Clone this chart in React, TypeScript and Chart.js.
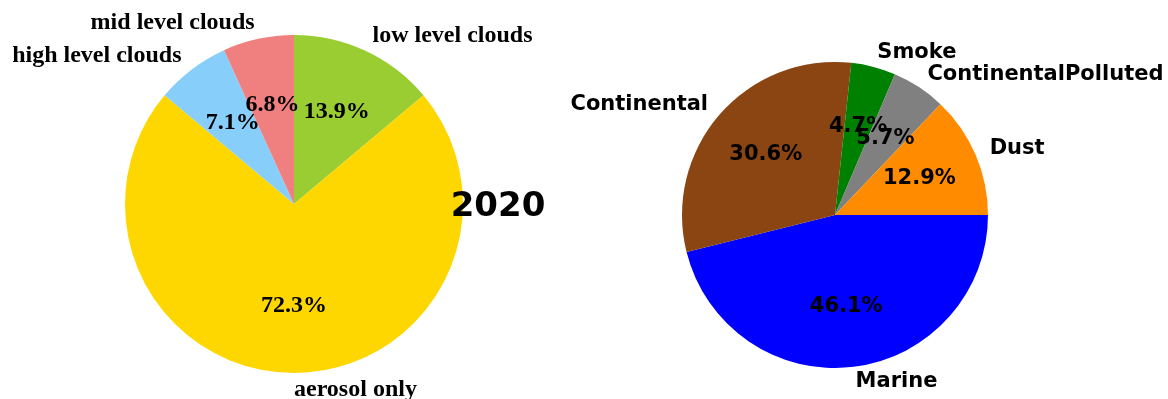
import React, { useEffect, useRef } from "react";
import { Chart, registerables } from "chart.js";

Chart.register(...registerables);

// Left pie (cloud types), clockwise from top
const cloudLabels = ["low level clouds", "aerosol only", "high level clouds", "mid level clouds"];
const cloudValues = [13.9, 72.3, 7.1, 6.8];
const cloudColors = ["#9ACD32", "#FFD700", "#87CEFA", "#F08080"];

// Right pie (aerosol types), clockwise from 3 o'clock
const aerosolLabels = ["Marine", "Continental", "Smoke", "ContinentalPolluted", "Dust"];
const aerosolValues = [46.1, 30.6, 4.7, 5.7, 12.9];
const aerosolColors = ["#0000FF", "#8B4513", "#008000", "#808080", "#FF8C00"];

const yearText = "2020";

const H = 399;

function makeLabelPlugin(font: string, extra?: (ctx: CanvasRenderingContext2D) => void) {
  return {
    id: "mplLabels",
    afterDraw(chart: any) {
      const ctx: CanvasRenderingContext2D = chart.ctx;
      const meta = chart.getDatasetMeta(0);
      const labels = chart.data.labels as string[];
      const values = chart.data.datasets[0].data as number[];
      ctx.save();
      ctx.font = font;
      ctx.fillStyle = "#000";
      ctx.textBaseline = "middle";
      meta.data.forEach((arc: any, i: number) => {
        const p = arc.getProps(["x", "y", "startAngle", "endAngle", "outerRadius"], true);
        const mid = (p.startAngle + p.endAngle) / 2;
        const c = Math.cos(mid);
        const s = Math.sin(mid);
        // outer label
        const lx = p.x + p.outerRadius * 1.1 * c;
        const ly = p.y + p.outerRadius * 1.1 * s;
        ctx.textAlign = c > -0.01 ? "left" : "right";
        ctx.fillText(labels[i], lx, ly);
        // percentage
        const px = p.x + p.outerRadius * 0.6 * c;
        const py = p.y + p.outerRadius * 0.6 * s;
        ctx.textAlign = "center";
        ctx.fillText(values[i].toFixed(1) + "%", px, py);
      });
      if (extra) extra(ctx);
      ctx.restore();
    },
  };
}

function PieCanvas(props: {
  left: number;
  width: number;
  labels: string[];
  values: number[];
  colors: string[];
  rotation: number;
  padding: { left: number; right: number; top: number; bottom: number };
  font: string;
  extra?: (ctx: CanvasRenderingContext2D) => void;
}) {
  const ref = useRef<HTMLCanvasElement>(null);
  useEffect(() => {
    const canvas = ref.current!;
    const chart = new Chart(canvas, {
      type: "pie",
      data: {
        labels: props.labels,
        datasets: [
          {
            data: props.values,
            backgroundColor: props.colors,
            borderWidth: 0,
          },
        ],
      },
      options: {
        animation: false,
        responsive: false,
        devicePixelRatio: 1,
        rotation: props.rotation,
        layout: { padding: props.padding },
        plugins: {
          legend: { display: false },
          tooltip: { enabled: false },
          title: { display: false },
        },
      },
      plugins: [makeLabelPlugin(props.font, props.extra)],
    });
    return () => chart.destroy();
  }, []);
  return (
    <canvas
      ref={ref}
      width={props.width}
      height={H}
      style={{ position: "absolute", left: props.left, top: 0, width: props.width, height: H }}
    />
  );
}

export default function App() {
  const drawYear = (ctx: CanvasRenderingContext2D) => {
    ctx.font = 'bold 34px "DejaVu Sans"';
    ctx.textAlign = "center";
    ctx.textBaseline = "middle";
    ctx.fillStyle = "#000";
    ctx.fillText(yearText, 498, 207);
  };
  return (
    <div
      style={{
        position: "absolute",
        left: 0,
        top: 0,
        width: 1168,
        height: 399,
        background: "#fff",
        overflow: "hidden",
      }}
    >
      <PieCanvas
        left={0}
        width={584}
        labels={cloudLabels}
        values={cloudValues}
        colors={cloudColors}
        rotation={0}
        padding={{ left: 125, right: 121, top: 35, bottom: 26 }}
        font={'bold 24px "Liberation Serif"'}
        extra={drawYear}
      />
      <PieCanvas
        left={520}
        width={648}
        labels={aerosolLabels}
        values={aerosolValues}
        colors={aerosolColors}
        rotation={90}
        padding={{ left: 162, right: 180, top: 62, bottom: 31 }}
        font={'bold 21px "DejaVu Sans"'}
      />
    </div>
  );
}
